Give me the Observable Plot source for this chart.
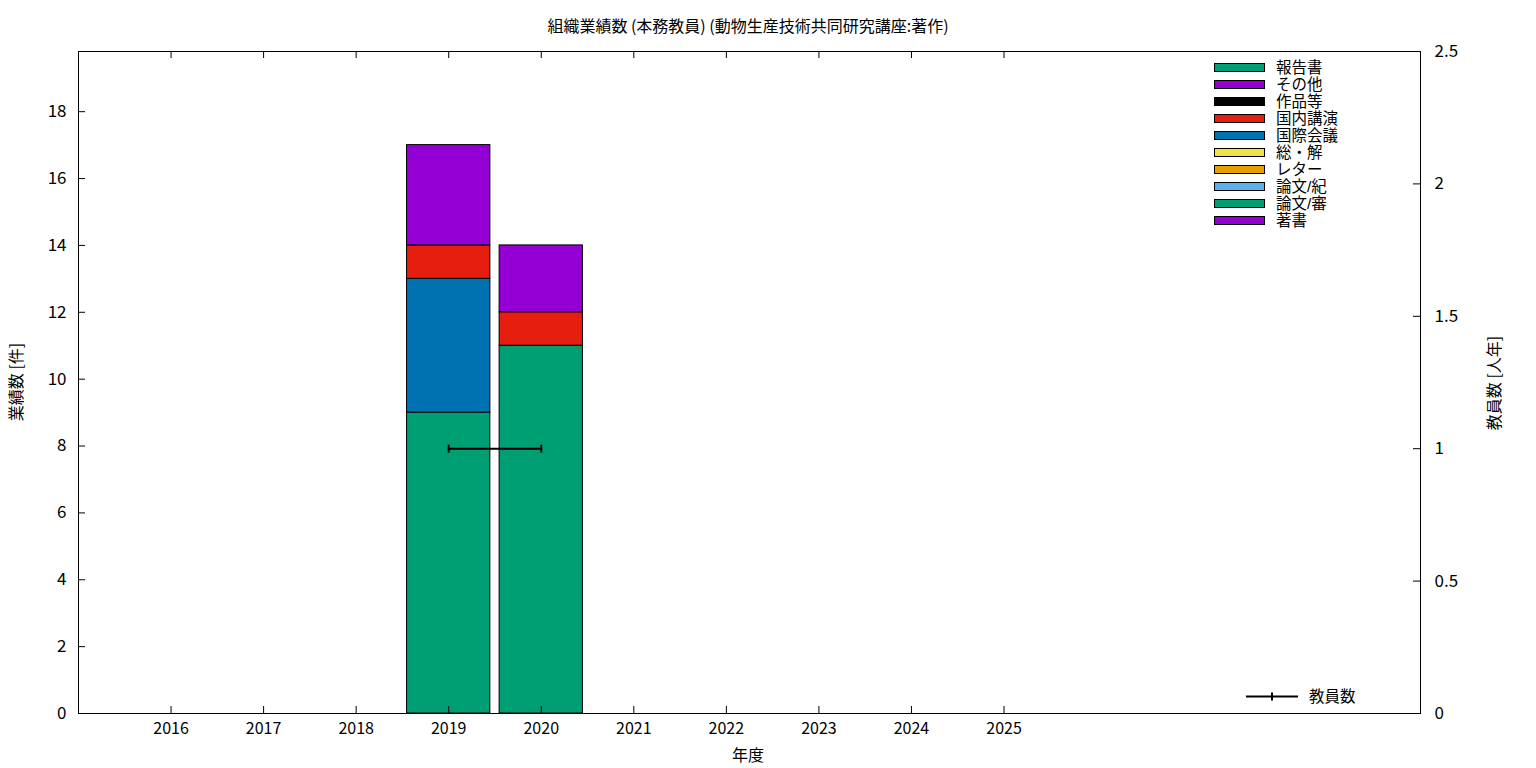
<!DOCTYPE html>
<html><head><meta charset="utf-8">
<script src="https://cdn.jsdelivr.net/npm/d3@7"></script>
<script src="https://cdn.jsdelivr.net/npm/@observablehq/plot@0.6"></script>
<style>
body{margin:0;background:#fff;font-family:"Noto Sans CJK JP","Noto Sans",sans-serif;color:#000;}
#wrap{position:relative;width:1536px;height:768px;overflow:hidden;}
.lbl{position:absolute;white-space:nowrap;font-size:16px;line-height:20px;}
.leg{position:absolute;left:1214px;height:17px;display:flex;align-items:center;font-size:16px;white-space:nowrap;}
.leg span{font-family:"Liberation Sans","Noto Sans CJK JP",sans-serif;font-size:15.5px;line-height:16px;}
.sw{width:49px;height:7px;border:1px solid #000;margin-right:11px;box-sizing:content-box;}
</style></head><body><div id="wrap"></div>
<script>
// ---- data ----
const years = [2019, 2020];
// stack order bottom -> top
const categories = ["著書","論文/審","論文/紀","レター","総・解","国際会議","国内講演","作品等","その他","報告書"];
const colors = ["#9400d3","#009e73","#56b4e9","#e69f00","#f0e442","#0072b2","#e51e10","#000000","#9400d3","#009e73"];
const values2019 = [0, 9, 0, 0, 0, 4, 1, 0, 3, 0];
const values2020 = [0, 11, 0, 0, 0, 0, 1, 0, 2, 0];
const staffYears = [2019, 2020];
const staffCounts = [1, 1];
const xTicks = [2016, 2017, 2018, 2019, 2020, 2021, 2022, 2023, 2024, 2025];
const yTicks = [0, 2, 4, 6, 8, 10, 12, 14, 16, 18];
const y2Ticks = [0, 0.5, 1, 1.5, 2, 2.5];
const yMax = 19.8, y2Max = 2.5;
const xDomain = [2015, 2029.5];
const barWidth = 0.9;

// ---- build stacked table ----
const valuesByYear = [values2019, values2020];
const rects = [];
years.forEach((yr, j) => {
  let acc = 0;
  categories.forEach((c, i) => {
    const v = valuesByYear[j][i];
    if (v > 0) rects.push({year: yr, cat: c, y1: acc, y2: acc + v, color: colors[i]});
    acc += v;
  });
});
const k = yMax / y2Max;
const staff = staffYears.map((yr, i) => ({year: yr, v: staffCounts[i] * k}));

const W = 1536, H = 768, mL = 78, mR = 116, mT = 51, mB = 55;
const fw = W - mL - mR, fh = H - mT - mB, tl = 7;
const vTick = {draw(ctx, size) { ctx.moveTo(0, -4); ctx.lineTo(0, 4); }};

const chart = Plot.plot({
  width: W, height: H,
  marginLeft: mL, marginRight: mR, marginTop: mT, marginBottom: mB,
  style: {fontFamily: '"Noto Sans CJK JP","Noto Sans",sans-serif', fontSize: "16px", color: "#000", background: "#fff"},
  x: {domain: xDomain, axis: null},
  y: {domain: [0, yMax], axis: null},
  marks: [
    Plot.rect(rects, {x1: d => d.year - barWidth/2, x2: d => d.year + barWidth/2, y1: "y1", y2: "y2", fill: "color", stroke: "#000", strokeWidth: 1}),
    Plot.line(staff, {x: "year", y: "v", stroke: "#000", strokeWidth: 2}),
    Plot.dot(staff, {x: "year", y: "v", symbol: vTick, stroke: "#000", strokeWidth: 2, fill: "none"}),
    Plot.frame({stroke: "#000", strokeWidth: 1}),
    // inward ticks
    Plot.tickX(xTicks, {x: d => d, insetTop: fh - tl, stroke: "#000"}),
    Plot.tickX(xTicks, {x: d => d, insetBottom: fh - tl, stroke: "#000"}),
    Plot.tickY(yTicks, {y: d => d, insetRight: fw - tl, stroke: "#000"}),
    Plot.tickY(y2Ticks, {y: d => d * k, insetLeft: fw - tl, stroke: "#000"}),
    // tick labels
    Plot.axisX(xTicks, {anchor: "bottom", tickSize: 0, tickPadding: 9, label: null, tickFormat: d => String(d), fontSize: 16}),
    Plot.axisY(yTicks, {anchor: "left", tickSize: 0, tickPadding: 12, label: null, fontSize: 17}),
    Plot.axisY(y2Ticks.map(d => d * k), {anchor: "right", tickSize: 0, tickPadding: 14, label: null, fontSize: 17,
      tickFormat: d => String(+(d / k).toFixed(2))})
  ]
});
const wrap = document.getElementById("wrap");
chart.style.position = "absolute"; chart.style.left = "0"; chart.style.top = "0";
wrap.appendChild(chart);

function addLabel(text, cx, cy, rot) {
  const d = document.createElement("div");
  d.className = "lbl"; d.textContent = text;
  d.style.left = cx + "px"; d.style.top = cy + "px";
  d.style.transform = `translate(-50%,-50%)` + (rot ? ` rotate(${rot}deg)` : "");
  wrap.appendChild(d);
}
addLabel("組織業績数 (本務教員) (動物生産技術共同研究講座:著作)", 748, 25, 0);
addLabel("年度", 748, 754, 0);
addLabel("業績数 [件]", 15, 382, -90);
addLabel("教員数 [人年]", 1493, 383, -90);

// legend (top to bottom = reverse of stack order)
const legendOrder = categories.map((c, i) => i).reverse();
legendOrder.forEach((i, r) => {
  const row = document.createElement("div");
  row.className = "leg";
  row.style.top = (59 + r * 17) + "px";
  const sw = document.createElement("div");
  sw.className = "sw"; sw.style.background = colors[i];
  const t = document.createElement("span"); t.textContent = categories[i];
  row.appendChild(sw); row.appendChild(t);
  wrap.appendChild(row);
});
// staff legend
const sl = document.createElement("div");
sl.className = "leg"; sl.style.left = "1246px"; sl.style.top = "688px";
sl.innerHTML = '<svg width="52" height="17" style="margin-right:11px"><line x1="0" y1="8.5" x2="52" y2="8.5" stroke="#000" stroke-width="2"/><line x1="26" y1="4.5" x2="26" y2="12.5" stroke="#000" stroke-width="2"/></svg><span>教員数</span>';
wrap.appendChild(sl);
</script>
</body></html>
